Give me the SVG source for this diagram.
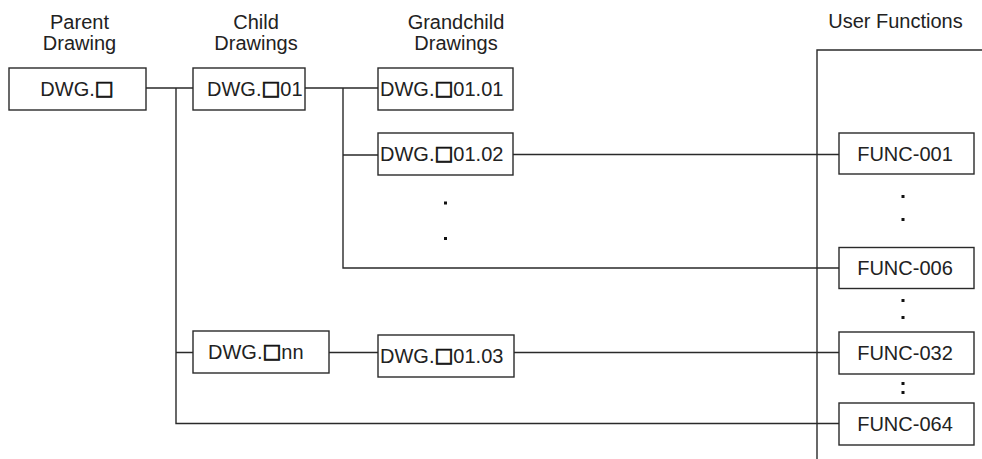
<svg xmlns="http://www.w3.org/2000/svg" width="982" height="459" viewBox="0 0 982 459">
<style>
.box{fill:#fff;stroke:#2a2a2a;stroke-width:1.4}
.ln{fill:none;stroke:#2a2a2a;stroke-width:1.4}
.t{font-family:"Liberation Sans",Arial,Helvetica,sans-serif;font-size:20px;fill:#222}
.h{font-family:"Liberation Sans",Arial,Helvetica,sans-serif;font-size:20px;fill:#222;text-anchor:middle}
.m{text-anchor:middle}
.sq{font-family:"DejaVu Sans",sans-serif;font-size:20px;stroke:#111;stroke-width:0.8}
.dot{fill:#111}
</style>
<rect width="982" height="459" fill="#fff"/>
<g id="headers">
<text class="h" x="79.5" y="29">Parent</text>
<text class="h" x="79.5" y="49.5">Drawing</text>
<text class="h" x="256" y="29">Child</text>
<text class="h" x="256" y="49.5">Drawings</text>
<text class="h" x="456" y="29">Grandchild</text>
<text class="h" x="456" y="49.5">Drawings</text>
<text class="h" x="895.5" y="27.5">User Functions</text>
</g>
<g id="connectors">
<path class="ln" d="M146 88H193M176 88V423.5H839M176 352.5H193"/>
<path class="ln" d="M305 88H378M343 88V268H839M343 155H378"/>
<path class="ln" d="M513 154.5H839"/>
<path class="ln" d="M329 352.5H378M514 352.5H839"/>
<path class="ln" d="M817 459V50H982"/>
</g>
<g id="ellipsis">
<rect class="dot" x="444" y="201.5" width="3" height="3"/>
<rect class="dot" x="444" y="237" width="3" height="3"/>
<rect class="dot" x="901.5" y="195" width="3" height="3"/>
<rect class="dot" x="901.5" y="218" width="3" height="3"/>
<rect class="dot" x="901.5" y="299" width="3" height="3"/>
<rect class="dot" x="901.5" y="316" width="3" height="3"/>
<rect class="dot" x="901.5" y="382" width="3" height="3"/>
<rect class="dot" x="901.5" y="391" width="3" height="3"/>
</g>
<g id="parent">
<rect class="box" x="9" y="68" width="137" height="42"/>
<text class="t m" x="77" y="96">DWG.<tspan class="sq" baseline-shift="1.5">□</tspan></text>
</g>
<g id="child01">
<rect class="box" x="193" y="68" width="112" height="42"/>
<text class="t" x="207" y="96">DWG.<tspan class="sq" baseline-shift="1.5">□</tspan>01</text>
</g>
<g id="grand0101">
<rect class="box" x="378" y="68" width="135" height="42"/>
<text class="t" x="380" y="96">DWG.<tspan class="sq" baseline-shift="1.5">□</tspan>01.01</text>
</g>
<g id="grand0102">
<rect class="box" x="378" y="133" width="135" height="42"/>
<text class="t" x="380" y="161">DWG.<tspan class="sq" baseline-shift="1.5">□</tspan>01.02</text>
</g>
<g id="childnn">
<rect class="box" x="193" y="331" width="136" height="42"/>
<text class="t" x="208" y="359">DWG.<tspan class="sq" baseline-shift="1.5">□</tspan>nn</text>
</g>
<g id="grand0103">
<rect class="box" x="378" y="335" width="136" height="42"/>
<text class="t" x="380" y="363">DWG.<tspan class="sq" baseline-shift="1.5">□</tspan>01.03</text>
</g>
<g id="func001">
<rect class="box" x="839" y="133" width="135" height="41"/>
<text class="t m" x="905" y="160.5">FUNC-001</text>
</g>
<g id="func006">
<rect class="box" x="839" y="247.5" width="135" height="41"/>
<text class="t m" x="905" y="275">FUNC-006</text>
</g>
<g id="func032">
<rect class="box" x="839" y="332" width="135" height="42"/>
<text class="t m" x="905" y="360">FUNC-032</text>
</g>
<g id="func064">
<rect class="box" x="839" y="403" width="135" height="42"/>
<text class="t m" x="905" y="431">FUNC-064</text>
</g>
</svg>
